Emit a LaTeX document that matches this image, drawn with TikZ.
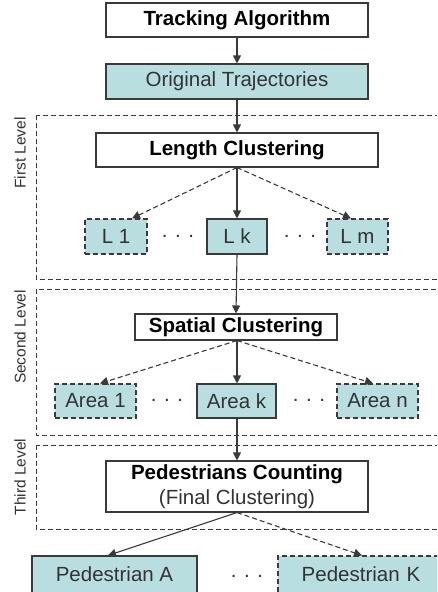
\documentclass[tikz,border=0pt]{standalone}
\usepackage{fontspec}
\setmainfont{Liberation Sans}
\usetikzlibrary{arrows.meta}
\definecolor{boxfill}{HTML}{B8DEE0}
\definecolor{edge}{HTML}{3A3A3A}
\definecolor{txt}{HTML}{333333}
\begin{document}
\begin{tikzpicture}[x=1pt,y=-1pt,
 box/.style={draw=edge, line width=1.1pt, inner sep=0pt, align=center, font=\fontsize{20.5}{25}\selectfont, text=txt},
 titlebox/.style={box, fill=white, font=\fontsize{20.5}{25}\selectfont\bfseries, text=black},
 itembox/.style={box, fill=boxfill},
 dashedbox/.style={itembox, dash pattern=on 5pt off 3pt},
 levelbox/.style={draw=edge, line width=1pt, dash pattern=on 5pt off 3pt},
 levellabel/.style={rotate=90, inner sep=0pt, font=\fontsize{15.5}{18}\selectfont, text=txt},
 arr/.style={draw=edge, line width=1.1pt, -{Triangle[length=8pt,width=8pt]}},
 darr/.style={arr, dash pattern=on 5pt off 3pt},
 dotsnode/.style={inner sep=0pt, font=\fontsize{20.5}{25}\selectfont, text=txt}]
\useasboundingbox (0,0) rectangle (437,592);
\clip (0,0) rectangle (437,592);
\fill[white] (0,0) rectangle (437,592);

% level frames
\draw[levelbox] (36,115) rectangle (450,279);
\draw[levelbox] (36,289) rectangle (450,435);
\draw[levelbox] (36,445) rectangle (450,529);
\node[levellabel] (lv1) at (20,153) {First Level};
\node[levellabel] (lv2) at (20,337) {Second Level};
\node[levellabel] (lv3) at (20,477) {Third Level};

% nodes
\node[titlebox, minimum width=262pt, minimum height=34pt] (ta) at (237,20) {Tracking Algorithm};
\node[itembox, minimum width=262pt, minimum height=35pt] (ot) at (237,81.5) {Original Trajectories};

\node[titlebox, minimum width=282pt, minimum height=34pt] (lc) at (237,150) {Length Clustering};
\node[dashedbox, minimum width=62pt, minimum height=35pt] (l1) at (116,236.5) {L 1};
\node[itembox, minimum width=60pt, minimum height=35pt] (lk) at (237,236.5) {L k};
\node[dashedbox, minimum width=61pt, minimum height=35pt] (lm) at (357.5,236.5) {L m};
\node[dotsnode] (d1) at (178,236) {. . .};
\node[dotsnode] (d2) at (300,236) {. . .};

\node[titlebox, minimum width=202pt, minimum height=26pt] (sc) at (236,327) {Spatial Clustering};
\node[dashedbox, minimum width=81pt, minimum height=34pt] (a1) at (95.5,401) {Area 1};
\node[itembox, minimum width=79pt, minimum height=34pt] (ak) at (236.5,401) {Area k};
\node[dashedbox, minimum width=81pt, minimum height=34pt] (an) at (377.5,401) {Area n};
\node[dotsnode] (d3) at (167,400) {. . .};
\node[dotsnode] (d4) at (309,400) {. . .};

\node[box, fill=white, minimum width=262pt, minimum height=51pt] (pc) at (237,486.5)
  {{\bfseries\color{black}Pedestrians Counting}\\(Final Clustering)};
\node[itembox, minimum width=165pt, minimum height=37pt] (pa) at (114.5,574.5) {Pedestrian A};
\node[dashedbox, minimum width=166pt, minimum height=37pt, text width=156pt] (pk) at (361,574.5) {Pedestrian K};
\node[dotsnode] (d5) at (247,576) {. . .};

% connectors
\draw[arr] (ta) -- (ot);
\draw[arr] (ot) -- (lc);
\draw[arr] (lc.south) -- (lk.north);
\draw[darr] (lc.south) -- ([xshift=16pt]l1.north);
\draw[darr] (lc.south) -- ([xshift=-6.5pt]lm.north);
\draw[arr] (lk.south) -- (sc.north);
\draw[arr] ([xshift=1pt]sc.south) -- ([xshift=0.5pt]ak.north);
\draw[darr] ([xshift=1pt]sc.south) -- ([xshift=4.5pt]a1.north);
\draw[darr] ([xshift=1pt]sc.south) -- ([xshift=-4.5pt]an.north);
\draw[arr] ([xshift=0.5pt]ak.south) -- (pc.north);
\draw[arr] (pc.south) -- ([xshift=-6.5pt]pa.north);
\draw[darr] (pc.south) -- ([xshift=1pt]pk.north);
\end{tikzpicture}
\end{document}
